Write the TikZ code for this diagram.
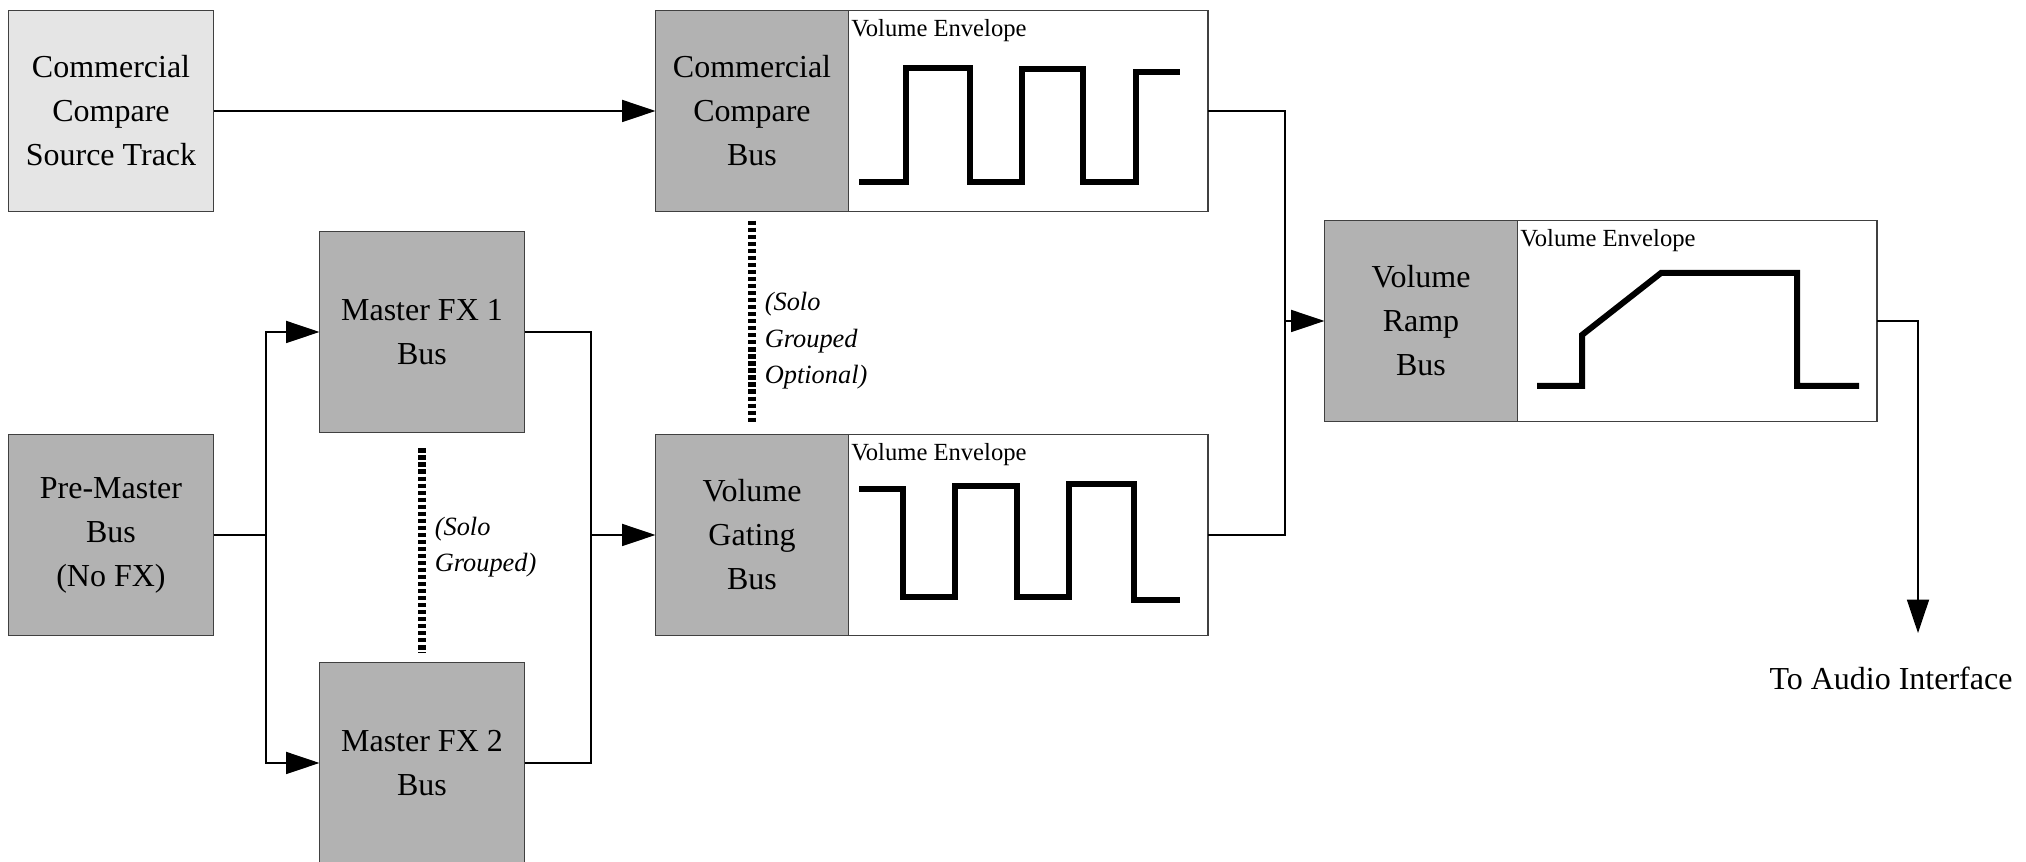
\documentclass[tikz,border=0pt]{standalone}
\usepackage{fontspec}
\setmainfont{Liberation Serif}
\usetikzlibrary{arrows.meta,positioning}
\tikzset{
  busbox/.style={draw=black!75, fill=gray!60, line width=0.45pt, inner sep=0pt, outer sep=0pt,
    minimum width=2.05cm, minimum height=2.01cm, align=center, font=\fontsize{9.1}{12.5}\selectfont},
  srcbox/.style={busbox, fill=gray!20},
  halfbox/.style={busbox, minimum width=1.93cm},
  envbox/.style={draw=black!75, fill=white, line width=0.45pt, outer sep=0pt,
    minimum width=3.59cm, minimum height=2.01cm},
  envlabel/.style={anchor=north west, inner xsep=0.6pt, inner ysep=2.4pt, font=\fontsize{7}{8}\selectfont},
  wave/.style={-, line width=1.7pt},
  solo/.style={-, line width=2.3pt, dash pattern=on 1.2pt off 0.8pt},
  sololabel/.style={right, inner sep=2.5pt, align=left, font=\itshape\fontsize{7.5}{10.3}\selectfont},
}
\begin{document}
\begin{tikzpicture}[x=0.01cm,y=-0.01cm,->,>={Triangle[length=9.5pt,width=6.3pt]},line width=0.35pt]
\useasboundingbox (0,0) rectangle (2026,862);
\node(src) at (111,111) [srcbox] {Commercial\\Compare\\Source Track};
\node(premaster) at (111,535) [busbox] {Pre-Master\\Bus\\(No FX)};
\node(fxone) at (422,332) [busbox] {Master FX 1\\Bus};
\node(fxtwo) at (422,763) [busbox] {Master FX 2\\Bus};
\node(ccbus) at (752,111) [halfbox] {Commercial\\Compare\\Bus};
\node(ccenv) [envbox, right=0pt of ccbus] {};
\node(gatebus) at (752,535) [halfbox] {Volume\\Gating\\Bus};
\node(gateenv) [envbox, right=0pt of gatebus] {};
\node(rampbus) at (1421,321) [halfbox] {Volume\\Ramp\\Bus};
\node(rampenv) [envbox, right=0pt of rampbus] {};
\node(audio) at (1891,678) [font=\fontsize{9.1}{12.5}\selectfont] {To Audio Interface};
\node at (ccenv.north west) [envlabel] {Volume Envelope};
\node at (gateenv.north west) [envlabel] {Volume Envelope};
\node at (rampenv.north west) [envlabel] {Volume Envelope};
\coordinate (jl) at (266,535); \coordinate (jm) at (591,535);
\coordinate (jr) at (1285,321); \coordinate (out) at (1918,633);

\path (src) edge (ccbus);
\draw[-] (premaster) -- (jl);
\draw (jl) |- (fxone); \draw (jl) |- (fxtwo);
\draw[-] (fxone) -| (jm); \draw[-] (fxtwo) -| (jm);
\draw (jm) -- (gatebus);
\draw[-] (ccenv) -| (jr); \draw[-] (gateenv) -| (jr);
\draw (jr) -- (rampbus);
\draw (rampenv) -| (out);

% envelopes
\draw[wave] (859,182) -- (906,182) -- (906,68) -- (970,68) -- (970,182) -- (1022,182) -- (1022,69)
  -- (1083,69) -- (1083,182) -- (1136,182) -- (1136,72) -- (1180,72);
\draw[wave] (859,489) -- (903,489) -- (903,597) -- (955,597) -- (955,486) -- (1017,486) -- (1017,597)
  -- (1069,597) -- (1069,484) -- (1134,484) -- (1134,600) -- (1180,600);
\draw[wave] (1537,386) -- (1582,386) -- (1582,335) -- (1661,273) -- (1797,273) -- (1797,386) -- (1859,386);

% solo groups
\draw[solo, shorten <=4.5pt, shorten >=2.8pt] (fxone) -- node[sololabel] {(Solo\\Grouped)} (fxtwo);
\draw[solo, shorten <=2.6pt, shorten >=3.1pt] (ccbus) -- node[sololabel, pos=0.58] {(Solo\\Grouped\\Optional)} (gatebus);
\end{tikzpicture}
\end{document}
